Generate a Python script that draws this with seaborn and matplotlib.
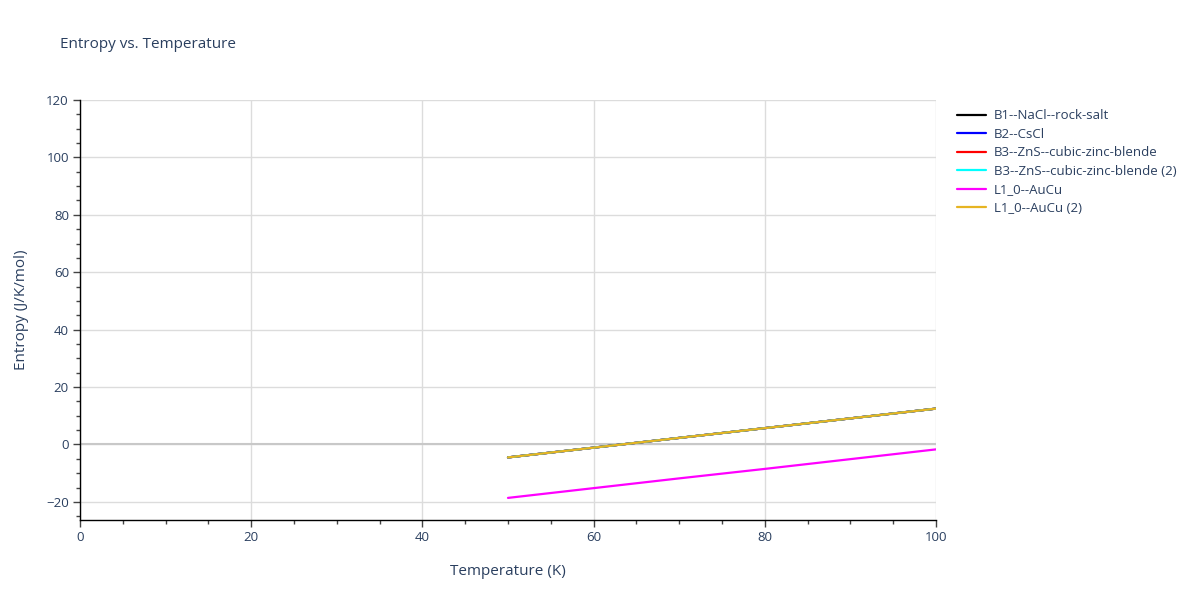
import matplotlib
matplotlib.use("Agg")
import matplotlib.pyplot as plt
from matplotlib.ticker import MultipleLocator
from matplotlib.lines import Line2D
import seaborn as sns
import pandas as pd

temperature = [50, 60, 70, 80, 90, 100]
b1_nacl = [-4.5, -1.1, 2.3, 5.7, 9.1, 12.5]
b2_cscl = [-4.5, -1.1, 2.3, 5.7, 9.1, 12.5]
b3_zns = [-4.5, -1.1, 2.3, 5.7, 9.1, 12.5]
b3_zns_2 = [-4.5, -1.1, 2.3, 5.7, 9.1, 12.5]
l10_aucu = [-18.6, -15.2, -11.8, -8.5, -5.1, -1.7]
l10_aucu_2 = [-4.5, -1.1, 2.3, 5.7, 9.1, 12.5]

series_names = ["B1--NaCl--rock-salt", "B2--CsCl", "B3--ZnS--cubic-zinc-blende",
                "B3--ZnS--cubic-zinc-blende (2)", "L1_0--AuCu", "L1_0--AuCu (2)"]
series_values = [b1_nacl, b2_cscl, b3_zns, b3_zns_2, l10_aucu, l10_aucu_2]
colors = ["#000000", "#0000ff", "#ff0000", "#00ffff", "#ff00ff", "#e6b422"]

rows = []
for name, vals in zip(series_names, series_values):
    for t, v in zip(temperature, vals):
        rows.append({"Temperature": t, "Entropy": v, "Structure": name})
df = pd.DataFrame(rows)

sns.set_style("white")
plt.rcParams["font.family"] = ["Open Sans", "DejaVu Sans"]
text_color = "#2a3f5f"

fig = plt.figure(figsize=(12, 6), dpi=100)
ax = fig.add_axes([80 / 1200, 80 / 600, 856 / 1200, 420 / 600])

sns.lineplot(data=df, x="Temperature", y="Entropy", hue="Structure",
             hue_order=series_names, palette=dict(zip(series_names, colors)),
             linewidth=1.6, ax=ax, legend=False, zorder=3)

ax.set_xlim(0, 100)
ax.set_ylim(-26.3, 120)
ax.xaxis.set_major_locator(MultipleLocator(20))
ax.xaxis.set_minor_locator(MultipleLocator(5))
ax.yaxis.set_major_locator(MultipleLocator(20))
ax.yaxis.set_minor_locator(MultipleLocator(5))

ax.grid(True, which="major", color="#dcdcdc", linewidth=1, zorder=0)
ax.axhline(0, color="#c8c8c8", linewidth=1.5, zorder=1)
for side in ["top", "right"]:
    ax.spines[side].set_visible(False)
for side in ["left", "bottom"]:
    ax.spines[side].set_color("#000000")
    ax.spines[side].set_linewidth(1)

ax.tick_params(axis="both", which="major", direction="out", length=5, width=1,
               color="#444444", labelsize=9.5, labelcolor=text_color, pad=3)
ax.tick_params(axis="both", which="minor", direction="out", length=3, width=1,
               color="#444444")
ax.tick_params(axis="x", which="both", bottom=True)
ax.tick_params(axis="y", which="both", left=True)

ax.set_xlabel("Temperature (K)", fontsize=11, color=text_color, labelpad=14)
ax.set_ylabel("Entropy (J/K/mol)", fontsize=11, color=text_color, labelpad=12)

fig.text(60 / 1200, 1 - 45 / 600, "Entropy vs. Temperature", fontsize=11,
         color=text_color, va="center", ha="left")

handles = [Line2D([0], [0], color=c, linewidth=1.6) for c in colors]
fig.legend(handles, series_names, loc="upper left",
           bbox_to_anchor=(952 / 1200, 1 - 104 / 600), frameon=False,
           fontsize=9.5, labelcolor=text_color, handlelength=2.2,
           handletextpad=0.6, labelspacing=0.42, borderaxespad=0)

fig.savefig("out.png", dpi=100)
